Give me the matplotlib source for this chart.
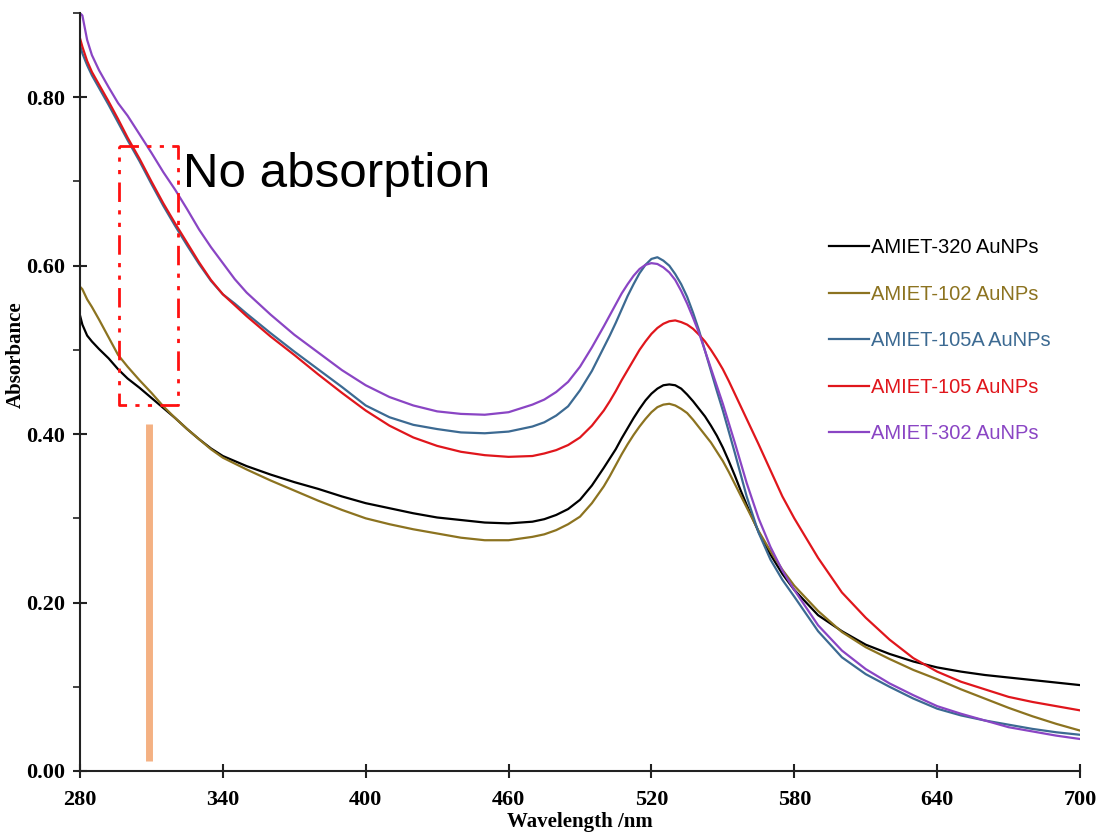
import matplotlib
matplotlib.use("Agg")
import matplotlib.pyplot as plt
from matplotlib.ticker import MultipleLocator, FormatStrFormatter, FixedLocator

wavelength = [280, 281, 283, 285, 288, 292, 296, 300, 305, 310, 315, 320, 325, 330, 335,
              340, 345, 350, 360, 370, 380, 390, 400, 410, 420, 430, 440, 450, 460,
              470, 475, 480, 485, 490, 495,
              500, 502.5, 505, 507.5, 510, 512.5, 515, 517.5, 520, 522.5, 525, 527.5,
              530, 532.5, 535, 537.5, 540, 542.5, 545, 547.5, 550, 552.5, 555, 557.5,
              560, 565, 570, 575, 580,
              590, 600, 610, 620, 630, 640, 650, 660, 670, 680, 690, 700]

amiet_320 = [0.541, 0.530, 0.517, 0.510, 0.501, 0.490, 0.477, 0.466, 0.455, 0.443, 0.431, 0.419, 0.406, 0.394, 0.383,
             0.374, 0.368, 0.362, 0.352, 0.343, 0.335, 0.326, 0.318, 0.312, 0.306, 0.301, 0.298, 0.295, 0.294,
             0.296, 0.299, 0.304, 0.311, 0.322, 0.339,
             0.360, 0.371, 0.382, 0.395, 0.407, 0.419, 0.430, 0.440, 0.448, 0.454, 0.458, 0.459,
             0.458, 0.454, 0.447, 0.439, 0.430, 0.421, 0.410, 0.398, 0.384, 0.368, 0.351, 0.333,
             0.316, 0.284, 0.257, 0.234, 0.215,
             0.185, 0.166, 0.150, 0.139, 0.130, 0.123, 0.118, 0.114, 0.111, 0.108, 0.105, 0.102]

amiet_102 = [0.575, 0.572, 0.560, 0.551, 0.536, 0.515, 0.494, 0.480, 0.464, 0.449, 0.433, 0.419, 0.406, 0.394, 0.382,
             0.372, 0.365, 0.358, 0.345, 0.333, 0.321, 0.310, 0.300, 0.293, 0.287, 0.282, 0.277, 0.274, 0.274,
             0.278, 0.281, 0.286, 0.293, 0.302, 0.318,
             0.338, 0.350, 0.363, 0.376, 0.388, 0.399, 0.409, 0.418, 0.426, 0.432, 0.435, 0.436,
             0.434, 0.430, 0.425, 0.417, 0.408, 0.399, 0.390, 0.379, 0.368, 0.355, 0.341, 0.327,
             0.313, 0.285, 0.261, 0.239, 0.220,
             0.190, 0.165, 0.147, 0.133, 0.120, 0.109, 0.097, 0.086, 0.075, 0.065, 0.056, 0.048]

amiet_105a = [0.862, 0.852, 0.838, 0.826, 0.811, 0.791, 0.770, 0.749, 0.724, 0.697, 0.671, 0.647, 0.624, 0.602, 0.582,
              0.566, 0.555, 0.543, 0.520, 0.498, 0.477, 0.456, 0.434, 0.420, 0.411, 0.406, 0.402, 0.401, 0.403,
              0.409, 0.414, 0.422, 0.433, 0.452, 0.475,
              0.503, 0.517, 0.532, 0.548, 0.564, 0.578, 0.591, 0.601, 0.608, 0.610, 0.606, 0.600,
              0.590, 0.578, 0.563, 0.544, 0.523, 0.499, 0.475, 0.451, 0.428, 0.403, 0.378, 0.352,
              0.326, 0.283, 0.251, 0.227, 0.207,
              0.166, 0.135, 0.115, 0.100, 0.086, 0.074, 0.066, 0.060, 0.055, 0.050, 0.046, 0.043]

amiet_105 = [0.870, 0.860, 0.843, 0.830, 0.815, 0.795, 0.774, 0.752, 0.727, 0.700, 0.674, 0.650, 0.627, 0.604, 0.583,
             0.566, 0.553, 0.540, 0.516, 0.494, 0.471, 0.449, 0.428, 0.410, 0.396, 0.386, 0.379, 0.375, 0.373,
             0.374, 0.377, 0.381, 0.387, 0.396, 0.410,
             0.428, 0.439, 0.451, 0.464, 0.476, 0.488, 0.500, 0.510, 0.519, 0.526, 0.531, 0.534,
             0.535, 0.533, 0.530, 0.525, 0.518, 0.510, 0.500, 0.489, 0.477, 0.463, 0.448, 0.433,
             0.418, 0.388, 0.357, 0.326, 0.300,
             0.253, 0.212, 0.182, 0.156, 0.134, 0.118, 0.106, 0.097, 0.088, 0.082, 0.077, 0.072]

amiet_302 = [0.900, 0.897, 0.868, 0.850, 0.832, 0.812, 0.793, 0.778, 0.756, 0.734, 0.711, 0.690, 0.667, 0.643, 0.622,
             0.603, 0.584, 0.568, 0.542, 0.518, 0.497, 0.476, 0.458, 0.444, 0.434, 0.427, 0.424, 0.423, 0.426,
             0.435, 0.441, 0.450, 0.462, 0.480, 0.503,
             0.528, 0.541, 0.554, 0.567, 0.578, 0.588, 0.596, 0.601, 0.603, 0.602, 0.598, 0.592,
             0.583, 0.570, 0.555, 0.538, 0.520, 0.499, 0.478, 0.457, 0.436, 0.413, 0.390, 0.366,
             0.342, 0.300, 0.266, 0.238, 0.215,
             0.173, 0.143, 0.121, 0.104, 0.090, 0.077, 0.068, 0.060, 0.052, 0.047, 0.042, 0.038]

labels = ["AMIET-320 AuNPs", "AMIET-102 AuNPs", "AMIET-105A AuNPs", "AMIET-105 AuNPs", "AMIET-302 AuNPs"]
colors = ["#000000", "#8C7320", "#3C6A92", "#E0161C", "#8A45C4"]
series = [amiet_320, amiet_102, amiet_105a, amiet_105, amiet_302]

x_ticks = [280, 340, 400, 460, 520, 580, 640, 700]
annotation_text = "No absorption"

fig = plt.figure(figsize=(10.98, 8.36), dpi=100)
ax = fig.add_axes([80/1098, 1-771/836, 1000/1098, 758/836])

for vals, lab, col in zip(series, labels, colors):
    ax.plot(wavelength, vals, color=col, lw=1.6, label=lab)

# red dash-dot box
box_x = [296.4, 321.2, 321.2, 296.4, 296.4]
box_y = [0.742, 0.742, 0.434, 0.434, 0.742]
ax.plot(box_x, box_y, color="#FF1010", lw=2.0, linestyle=(0, (7, 3, 1.5, 3, 1.5, 3)))

# orange bar
ax.plot([309, 309], [0.012, 0.412], color="#F4B183", lw=5, solid_capstyle="butt")

ax.text(183/1098, 1-187/836, annotation_text, transform=fig.transFigure,
        fontsize=35.5, family="Liberation Sans", color="black", va="baseline", ha="left")

ax.set_xlim(280, 700)
ax.set_ylim(0, 0.9)
ax.xaxis.set_major_locator(FixedLocator(x_ticks))
ax.yaxis.set_major_locator(MultipleLocator(0.2))
ax.yaxis.set_minor_locator(MultipleLocator(0.1))
ax.yaxis.set_major_formatter(FormatStrFormatter("%.2f"))

for s in ["top", "right"]:
    ax.spines[s].set_visible(False)
for s in ["left", "bottom"]:
    ax.spines[s].set_linewidth(1.5)
    ax.spines[s].set_color("#222222")

ax.tick_params(axis="both", which="major", direction="inout", length=10, width=1.5, color="#222222")
ax.tick_params(axis="y", which="minor", direction="out", length=5, width=1.2, color="#222222")
for lab in ax.get_xticklabels() + ax.get_yticklabels():
    lab.set_fontfamily("Liberation Serif")
    lab.set_fontweight("bold")
    lab.set_fontsize(16)
ax.tick_params(axis="x", pad=9)
ax.tick_params(axis="y", pad=6)

ax.set_xlabel("Wavelength /nm", fontsize=15, fontweight="bold", family="Liberation Serif")
ax.set_ylabel("Absorbance", fontsize=15, fontweight="bold", family="Liberation Serif")
ax.xaxis.set_label_coords(0.5, -0.054)
ax.yaxis.set_label_coords(-0.054, 0.549)

leg = ax.legend(loc="upper left", bbox_to_anchor=(811/1098, 1-220/836), bbox_transform=fig.transFigure,
                frameon=False, prop={"family": "Liberation Sans", "size": 14.5},
                handlelength=2.0, handletextpad=0.1, labelspacing=1.37, labelcolor="linecolor")

fig.savefig("out.png", dpi=100)
